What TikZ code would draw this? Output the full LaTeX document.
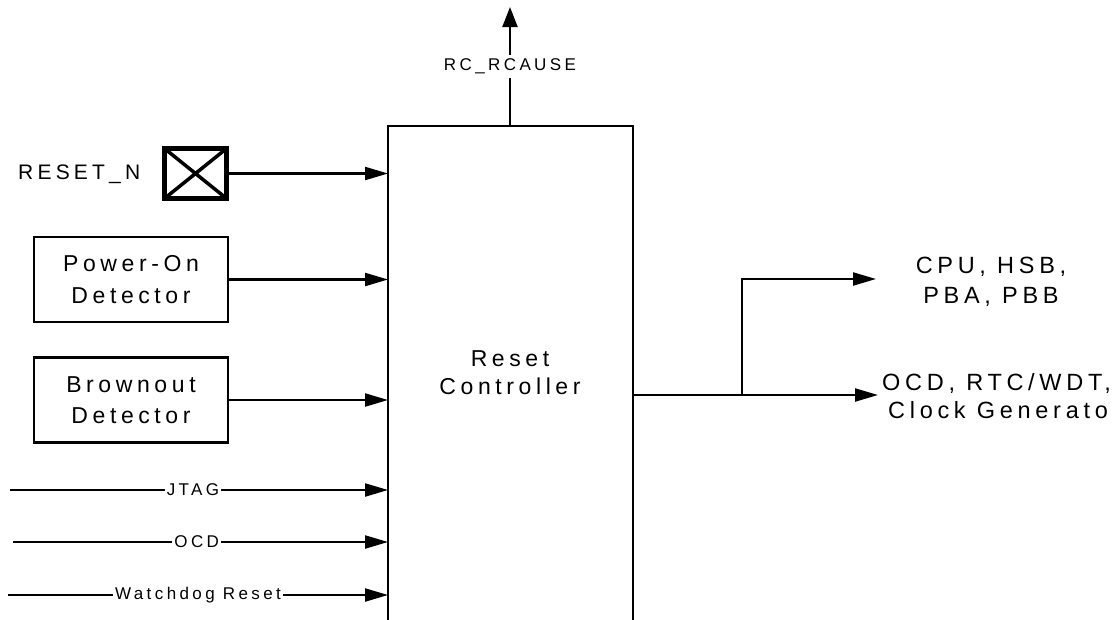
\documentclass[tikz,border=0pt]{standalone}
\usepackage{fontspec}
\setmainfont{Liberation Sans}
\newfontfamily\spc[LetterSpace=20]{Liberation Sans}
\usetikzlibrary{arrows.meta}
\begin{document}
\begin{tikzpicture}[x=1pt,y=-1pt,
  wire/.style={line width=2.2pt},
  arr/.style={wire,-{Triangle[length=23pt,width=13pt]}},
  uparr/.style={wire,-{Triangle[length=20pt,width=15pt]}},
  blk/.style={draw,line width=2.2pt,minimum width=194pt,minimum height=85pt,align=center,inner sep=0pt,outer sep=0pt,font=\spc\fontsize{23}{31.5}\selectfont},
  sig/.style={fill=white,inner xsep=2pt,inner ysep=4pt,font=\spc\fontsize{17}{20}\selectfont},
  big/.style={inner sep=0pt,anchor=base,font=\spc\fontsize{23}{28}\selectfont},
  outtxt/.style={inner sep=0pt,font=\spc\fontsize{23.5}{30}\selectfont}]
\useasboundingbox (0,0) rectangle (1112,619);

% main block (open at the bottom, clipped by the page)
\node[draw,wire,outer sep=0pt,minimum width=245pt,minimum height=520pt,anchor=north] (rc) at (510.5,126) {};
\node[big] (rct1) at (510,366) {Reset};
\node[big] (rct2) at (510,394) {Controller};

% RC_RCAUSE output
\coordinate (rcout) at (510,7);
\draw[uparr] (rc.north -| rcout) -- node[sig,midway]{RC\_RCAUSE} (rcout);

% RESET_N pad
\node[inner sep=0pt,anchor=base west,font=\spc\fontsize{21}{24}\selectfont] (rstn) at (18,179) {RESET\_N};
\node[draw,line width=4.5pt,minimum width=62pt,minimum height=50pt,inner sep=0pt,outer sep=0pt] (pad) at (195.5,173.5) {};
\draw[line width=3.5pt] (pad.north west) -- (pad.south east) (pad.south west) -- (pad.north east);
\draw[arr] (pad.east) -- (pad.east -| rc.west);

% detectors
\node[blk] (por) at (131,279.5) {Power-On\\Detector};
\draw[arr] (por.east) -- (por.east -| rc.west);
\node[blk] (bod) at (131,400) {Brownout\\Detector};
\draw[arr] (bod.east) -- (bod.east -| rc.west);

% plain inputs
\coordinate (jt) at (10,490);
\coordinate (oc) at (13,542);
\coordinate (wd) at (8,595);
\draw[arr] (jt) -- node[sig,pos=0.484]{JTAG} (jt -| rc.west);
\draw[arr] (oc) -- node[sig,pos=0.49]{OCD} (oc -| rc.west);
\draw[arr] (wd) -- node[sig,pos=0.5]{Watchdog Reset} (wd -| rc.west);

% outputs
\coordinate (br) at (742,395);
\coordinate (o1) at (878,395);
\coordinate (o2) at (876,279);
\draw[arr] (br -| rc.east) -- (o1);
\draw[arr] (br) |- (o2);
\node[outtxt,anchor=base] (cpu1) at (991,273) {CPU, HSB,};
\node[outtxt,anchor=base] (cpu2) at (991,303) {PBA, PBB};
\node[outtxt,anchor=base west] (ocd1) at (882,390) {OCD, RTC/WDT,};
\node[outtxt,anchor=base west] (ocd2) at (888,418) {Clock Generator};
\end{tikzpicture}
\end{document}
